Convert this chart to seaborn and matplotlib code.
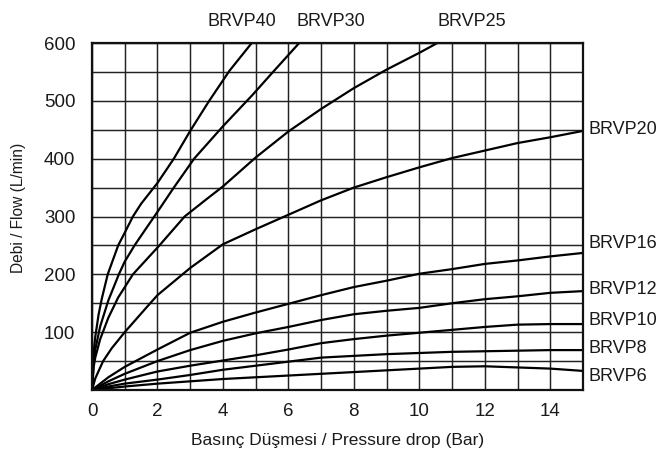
import numpy as np
import pandas as pd
import matplotlib
matplotlib.use("Agg")
import matplotlib.pyplot as plt
import seaborn as sns

# ---- data ----
BRVP40_x = [0, 0.04, 0.1, 0.2, 0.3, 0.48, 0.8, 1.0, 1.25, 1.5, 2.0, 2.5, 3.0, 3.58, 4.2, 4.88]
BRVP40_y = [0, 60, 92, 130, 158, 200, 250, 272, 300, 322, 358, 400, 448, 500, 552, 600]

BRVP30_x = [0, 0.05, 0.1, 0.25, 0.5, 0.82, 1.0, 1.3, 1.6, 2.0, 2.5, 3.12, 4.0, 4.9, 5.5, 6.33]
BRVP30_y = [0, 45, 70, 110, 155, 200, 222, 250, 275, 308, 350, 400, 456, 510, 548, 600]

BRVP25_x = [0, 0.05, 0.1, 0.25, 0.5, 0.8, 1.25, 2.06, 2.83, 3.5, 4.0, 5.0, 6.0, 7.0, 8.0, 9.0, 10.0, 10.55]
BRVP25_y = [0, 40, 56, 88, 125, 160, 200, 250, 300, 330, 352, 402, 447, 486, 522, 554, 583, 600]

BRVP20_x = [0, 0.1, 0.34, 0.6, 1.0, 1.7, 2.0, 3.0, 4.0, 5.0, 6.0, 7.0, 8.0, 9.0, 10.0, 11.0, 12.0, 13.0, 14.0, 15.0]
BRVP20_y = [0, 20, 50, 72, 100, 145, 164, 211, 252, 278, 303, 328, 350, 368, 385, 401, 414, 427, 437, 448]

LOW_x = [0, 0.5, 1, 2, 3, 4, 5, 6, 7, 8, 9, 10, 11, 12, 13, 14, 15]
BRVP16_y = [0, 22, 40, 70, 99, 118, 134, 149, 164, 178, 189, 201, 209, 218, 224, 231, 237]
BRVP12_y = [0, 15, 28, 50, 69, 85, 98, 109, 121, 131, 137, 142, 150, 157, 162, 168, 171]
BRVP10_y = [0, 10, 18, 32, 42, 51, 60, 70, 81, 88, 94, 99, 104, 109, 113, 114, 114]
BRVP8_y = [0, 6, 11, 18, 26, 35, 42, 49, 56, 59, 62, 64, 66, 67, 68, 69, 69]
BRVP6_y = [0, 3, 6, 11, 15, 19, 22, 25, 28, 31, 34, 37, 40, 41, 39, 37, 33]

series_names = ["BRVP40", "BRVP30", "BRVP25", "BRVP20", "BRVP16", "BRVP12", "BRVP10", "BRVP8", "BRVP6"]
series_x = [BRVP40_x, BRVP30_x, BRVP25_x, BRVP20_x, LOW_x, LOW_x, LOW_x, LOW_x, LOW_x]
series_y = [BRVP40_y, BRVP30_y, BRVP25_y, BRVP20_y, BRVP16_y, BRVP12_y, BRVP10_y, BRVP8_y, BRVP6_y]

x_ticks = [0, 2, 4, 6, 8, 10, 12, 14]
y_ticks = [100, 200, 300, 400, 500, 600]
x_label = "Basınç Düşmesi / Pressure drop (Bar)"
y_label = "Debi / Flow (L/min)"

# ---- label placement (style) ----
top_labels = {"BRVP40": 4.57, "BRVP30": 7.3, "BRVP25": 11.6}
right_labels = {"BRVP20": 450, "BRVP16": 253, "BRVP12": 174, "BRVP10": 120, "BRVP8": 72, "BRVP6": 24}

rows = []
for name, xs, ys in zip(series_names, series_x, series_y):
    for i, (xv, yv) in enumerate(zip(xs, ys)):
        rows.append({"series": name, "x": xv, "y": yv, "order": i})
df = pd.DataFrame(rows)

sns.set_theme(style="white")
plt.rcParams["font.family"] = ["Liberation Sans", "DejaVu Sans"]

fig = plt.figure(figsize=(6.57, 4.57), dpi=100)
ax = fig.add_axes([92 / 657, 1 - 390 / 457, (583 - 92) / 657, (390 - 43) / 457])

sns.lineplot(data=df, x="x", y="y", units="series", estimator=None, sort=False,
             color="black", linewidth=1.6, ax=ax, legend=False, clip_on=True)

ax.set_xlim(0, 15)
ax.set_ylim(0, 600)
ax.set_xticks(x_ticks)
ax.set_xticks(np.arange(0, 16, 1), minor=True)
ax.set_yticks(y_ticks)
ax.set_yticks(np.arange(0, 601, 50), minor=True)
ax.grid(True, which="both", color="#222222", linewidth=1.05)
ax.set_axisbelow(True)
ax.tick_params(which="both", length=0, labelsize=13.5, colors="#1a1a1a")
ax.tick_params(axis="x", pad=9)
ax.tick_params(axis="y", pad=12)
for sp in ax.spines.values():
    sp.set_color("#111111")
    sp.set_linewidth(1.6)
    sp.set_visible(True)

ax.set_xlabel(x_label, fontsize=12.5, color="#1a1a1a")
ax.set_ylabel(y_label, fontsize=11.2, color="#1a1a1a")
ax.xaxis.set_label_coords(0.5, -0.125)
ax.yaxis.set_label_coords(-0.134, 0.525)

for name, xv in top_labels.items():
    ax.text(xv, 638, name, ha="center", va="center", fontsize=13, color="#1a1a1a", clip_on=False)
for name, yv in right_labels.items():
    ax.text(15.18, yv, name, ha="left", va="center", fontsize=13, color="#1a1a1a", clip_on=False)

fig.savefig("out.png", dpi=100)
